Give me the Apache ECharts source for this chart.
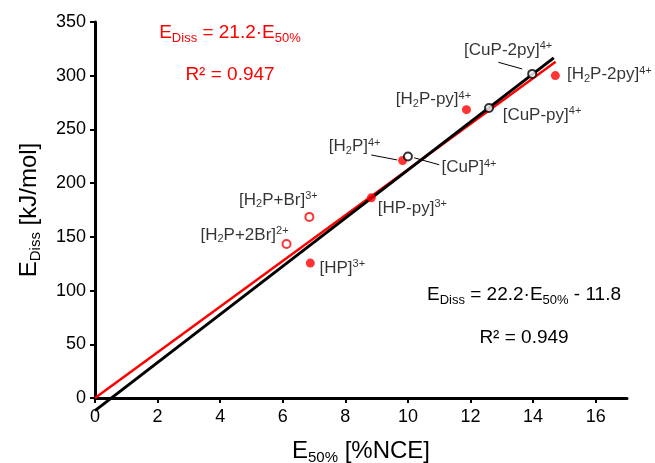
<!DOCTYPE html>
<html>
<head>
<meta charset="utf-8">
<script src="https://cdn.jsdelivr.net/npm/echarts@6/dist/echarts.min.js"></script>
<style>html,body{margin:0;padding:0;background:#fff;}#c{width:655px;height:463px;}</style>
</head>
<body>
<div id="c"></div>
<script>
// ---- data ----
const xTicks = [0, 2, 4, 6, 8, 10, 12, 14, 16];
const yTicks = [0, 50, 100, 150, 200, 250, 300, 350];

// filled red points (H2P / HP family)
const redFilledNames = ['[HP]{p|3+}', '[HP-py]{p|3+}', '[H{s|2}P]{p|4+}', '[H{s|2}P-py]{p|4+}', '[H{s|2}P-2py]{p|4+}'];
const redFilledX = [6.88, 8.83, 9.83, 11.87, 14.71];
const redFilledY = [125.6, 186.3, 221.1, 268.4, 300.1];

// open red points (Br adducts)
const redOpenNames = ['[H{s|2}P+2Br]{p|2+}', '[H{s|2}P+Br]{p|3+}'];
const redOpenX = [6.12, 6.85];
const redOpenY = [143.4, 168.6];

// open black points (Cu complexes)
const blackOpenNames = ['[CuP]{p|4+}', '[CuP-py]{p|4+}', '[CuP-2py]{p|4+}'];
const blackOpenX = [10.0, 12.59, 13.97];
const blackOpenY = [224.8, 270.0, 301.7];

// regression lines (end points)
const redFitX = [0, 14.72];
const redFitY = [0, 313.1];
const blackFitX = [0, 14.66];
const blackFitY = [-11.8, 316.6];

// leader lines [x1, y1, x2, y2]
const leaders = [
  [8.83, 226.2, 9.66, 221.6],
  [10.2, 223.6, 11.0, 217.1],
  [12.89, 312.5, 13.65, 306.3]
];

// ---- styling ----
const FONT = '"Liberation Sans", Arial, sans-serif';
const labelOffsets = {
  '[HP]{p|3+}': [32, 5],
  '[HP-py]{p|3+}': [41, 10],
  '[H{s|2}P]{p|4+}': [-48, -14],
  '[H{s|2}P-py]{p|4+}': [-33, -10],
  '[H{s|2}P-2py]{p|4+}': [54, -1],
  '[H{s|2}P+2Br]{p|2+}': [-42, -9],
  '[H{s|2}P+Br]{p|3+}': [-31, -17],
  '[CuP]{p|4+}': [61, 11],
  '[CuP-py]{p|4+}': [53, 7],
  '[CuP-2py]{p|4+}': [-24, -24]
};
const labelRich = {
  s: { fontSize: 11, fontFamily: FONT, color: '#000', padding: [9, 0, 0, 0] },
  p: { fontSize: 11, fontFamily: FONT, color: '#000', padding: [0, 0, 8, 0] }
};
function pts(xs, ys, names) {
  return xs.map((x, i) => ({
    value: [x, ys[i]],
    name: names[i],
    label: { offset: labelOffsets[names[i]] }
  }));
}
function line(xs, ys) { return xs.map((x, i) => [x, ys[i]]); }
const baseLabel = {
  show: true, position: 'inside', align: 'center', verticalAlign: 'middle',
  formatter: p => p.name, fontSize: 17, fontFamily: FONT, color: '#000', rich: labelRich
};

const chart = echarts.init(document.getElementById('c'), null, { renderer: 'canvas' });
chart.setOption({
  animation: false,
  textStyle: { fontFamily: FONT },
  grid: { left: 95, right: 28, top: 22, bottom: 65, containLabel: false, outerBoundsMode: 'none' },
  xAxis: {
    type: 'value', min: 0, max: 17, interval: 2,
    name: 'E{s|50%} [%NCE]', nameLocation: 'middle', nameGap: 40,
    nameTextStyle: { fontSize: 24, color: '#000', fontFamily: FONT,
      rich: { s: { fontSize: 15, fontFamily: FONT, color: '#000', padding: [12, 0, 0, 0] } } },
    axisLine: { lineStyle: { color: '#000', width: 3 } },
    axisTick: { show: true, length: 5, lineStyle: { width: 2, color: '#000' }, customValues: xTicks },
    axisLabel: { fontSize: 18, color: '#000', margin: 10, customValues: xTicks },
    splitLine: { show: false }
  },
  yAxis: {
    type: 'value', min: 0, max: 350, interval: 50,
    name: 'E{s|Diss} [kJ/mol]', nameLocation: 'middle', nameGap: 52, nameRotate: 90,
    nameTextStyle: { fontSize: 24, color: '#000', fontFamily: FONT,
      rich: { s: { fontSize: 15, fontFamily: FONT, color: '#000', padding: [12, 0, 0, 0] } } },
    axisLine: { show: true, lineStyle: { color: '#000', width: 3 } },
    axisTick: { show: true, length: 5, lineStyle: { width: 2, color: '#000' }, customValues: yTicks },
    axisLabel: { fontSize: 18, color: '#000', margin: 9, customValues: yTicks },
    splitLine: { show: false }
  },
  series: [
    {
      type: 'line', data: line(redFitX, redFitY), symbol: 'none', clip: false,
      lineStyle: { color: '#ff0000', width: 2.5 }, z: 2, silent: true
    },
    {
      type: 'line', data: line(blackFitX, blackFitY), symbol: 'none', clip: false,
      lineStyle: { color: '#000', width: 3 }, z: 3, silent: true,
      markLine: {
        silent: true, symbol: ['none', 'none'], label: { show: false },
        lineStyle: { color: '#000', width: 1, type: 'solid' },
        data: leaders.map(l => [{ coord: [l[0], l[1]] }, { coord: [l[2], l[3]] }])
      }
    },
    {
      type: 'scatter', data: pts(redFilledX, redFilledY, redFilledNames),
      symbol: 'circle', symbolSize: 9, itemStyle: { color: '#ff0000' },
      label: baseLabel, z: 5
    },
    {
      type: 'scatter', data: pts(redOpenX, redOpenY, redOpenNames),
      symbol: 'circle', symbolSize: 8, itemStyle: { color: '#fff', borderColor: '#ff0000', borderWidth: 2 },
      label: baseLabel, z: 5
    },
    {
      type: 'scatter', data: pts(blackOpenX, blackOpenY, blackOpenNames),
      symbol: 'circle', symbolSize: 8, itemStyle: { color: '#fff', borderColor: '#000', borderWidth: 2 },
      label: baseLabel, z: 5
    }
  ],
  graphic: [
    { type: 'text', x: 230, y: 33, style: { text: 'E{s|Diss} = 21.2·E{s|50%}', fill: '#ff0000', fontSize: 19, fontFamily: FONT,
      textAlign: 'center', textVerticalAlign: 'middle',
      rich: { s: { fontSize: 13, fontFamily: FONT, fill: '#ff0000', padding: [10, 0, 0, 0] } } } },
    { type: 'text', x: 230, y: 75, style: { text: 'R² = 0.947', fill: '#ff0000', fontSize: 19, fontFamily: FONT,
      textAlign: 'center', textVerticalAlign: 'middle' } },
    { type: 'text', x: 524, y: 295, style: { text: 'E{s|Diss} = 22.2·E{s|50%} - 11.8', fill: '#000', fontSize: 19, fontFamily: FONT,
      textAlign: 'center', textVerticalAlign: 'middle',
      rich: { s: { fontSize: 13, fontFamily: FONT, fill: '#000', padding: [10, 0, 0, 0] } } } },
    { type: 'text', x: 524, y: 338, style: { text: 'R² = 0.949', fill: '#000', fontSize: 19, fontFamily: FONT,
      textAlign: 'center', textVerticalAlign: 'middle' } }
  ]
});
</script>
</body>
</html>
